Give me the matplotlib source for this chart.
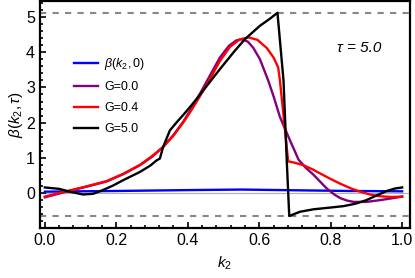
import numpy as np
import matplotlib
matplotlib.use("Agg")
import matplotlib.pyplot as plt
from matplotlib.ticker import MultipleLocator

plt.rcParams["font.family"] = ["Liberation Sans", "DejaVu Sans"]
plt.rcParams["mathtext.fontset"] = "custom"
plt.rcParams["mathtext.rm"] = "Liberation Sans"
plt.rcParams["mathtext.it"] = "Liberation Sans:italic"

# valeurs
k_blue = [0.0, 0.2, 0.4, 0.55, 0.7, 0.85, 1.0]
beta_blue = [0.04, 0.06, 0.085, 0.10, 0.08, 0.06, 0.05]

k_g00 = [0.0, 0.06, 0.12, 0.173, 0.22, 0.266, 0.30, 0.331, 0.36, 0.387,
         0.41, 0.434, 0.46, 0.49, 0.515, 0.535, 0.551, 0.568, 0.583, 0.602,
         0.625, 0.64, 0.658, 0.686, 0.71, 0.73, 0.752, 0.77, 0.789, 0.81,
         0.826, 0.845, 0.864, 0.9, 0.938, 0.97, 1.0]
beta_g00 = [-0.12, 0.04, 0.19, 0.33, 0.54, 0.79, 1.03, 1.31, 1.65, 2.02,
            2.4, 2.82, 3.3, 3.85, 4.18, 4.33, 4.37, 4.3, 4.13, 3.8,
            3.2, 2.75, 2.16, 1.5, 0.95, 0.72, 0.52, 0.33, 0.13, -0.04,
            -0.14, -0.21, -0.25, -0.25, -0.2, -0.15, -0.1]

k_g04 = [0.0, 0.06, 0.12, 0.173, 0.22, 0.266, 0.30, 0.331, 0.36, 0.387,
         0.41, 0.434, 0.46, 0.49, 0.518, 0.545, 0.57, 0.595, 0.621, 0.64,
         0.653, 0.658, 0.681, 0.70, 0.724, 0.75, 0.77, 0.80, 0.826, 0.855,
         0.882, 0.91, 0.938, 0.97, 1.0]
beta_g04 = [-0.1, 0.05, 0.2, 0.34, 0.55, 0.8, 1.05, 1.31, 1.63, 2.0,
            2.35, 2.75, 3.2, 3.75, 4.15, 4.36, 4.42, 4.35, 4.12, 3.85,
            3.57, 3.19, 0.9, 0.86, 0.79, 0.67, 0.56, 0.4, 0.27, 0.14,
            0.04, -0.04, -0.09, -0.11, -0.1]

k_g50 = [0.0, 0.04, 0.07, 0.107, 0.135, 0.159, 0.19, 0.22, 0.266, 0.295,
         0.313, 0.322, 0.331, 0.35, 0.369, 0.39, 0.415, 0.443, 0.49, 0.53,
         0.56, 0.602, 0.63, 0.651, 0.668, 0.677, 0.684, 0.714, 0.752, 0.8,
         0.836, 0.87, 0.9, 0.93, 0.957, 0.98, 1.0]
beta_g50 = [0.16, 0.12, 0.04, -0.04, -0.02, 0.07, 0.21, 0.37, 0.6, 0.78,
            0.93, 0.98, 1.31, 1.78, 2.01, 2.25, 2.55, 2.91, 3.52, 4.02,
            4.37, 4.75, 4.95, 5.12, 3.19, 0.93, -0.65, -0.53, -0.46, -0.41,
            -0.37, -0.3, -0.2, -0.06, 0.06, 0.13, 0.16]

borne_haut = 5.11
borne_bas = -0.65

fig = plt.figure(figsize=(4.15, 2.78), dpi=100)
ax = fig.add_axes([0.096, 0.18, 0.892, 0.816])

ax.axhline(0, color="#b0b0b0", lw=0.8, zorder=1)
ax.axhline(borne_haut, color="#888888", lw=1.5, ls=(0, (3, 3)), zorder=1)
ax.axhline(borne_bas, color="#888888", lw=1.5, ls=(0, (3, 3)), zorder=1)

ax.plot(k_blue, beta_blue, color="#0000ff", lw=1.7, label=r"$\beta(k_2,0)$")
ax.plot(k_g00, beta_g00, color="#800080", lw=1.7, label="G=0.0")
ax.plot(k_g04, beta_g04, color="#ff0000", lw=1.7, label="G=0.4")
ax.plot(k_g50, beta_g50, color="#000000", lw=1.7, label="G=5.0")

ax.set_xlim(-0.014, 1.022)
ax.set_ylim(-0.99, 5.45)
ax.xaxis.set_major_locator(MultipleLocator(0.2))
ax.xaxis.set_minor_locator(MultipleLocator(0.04))
ax.yaxis.set_major_locator(MultipleLocator(1))
ax.yaxis.set_minor_locator(MultipleLocator(0.2))
ax.tick_params(which="both", direction="in", labelsize=11.5, width=1.2)
ax.tick_params(which="major", length=4)
ax.tick_params(which="minor", length=2)
for s in ax.spines.values():
    s.set_linewidth(1.6)

ax.set_xlabel(r"$k_2$", fontsize=11, labelpad=5)
ax.set_ylabel(r"$\beta(k_2,\tau)$", fontsize=11, labelpad=1)
ax.text(0.88, 4.12, "τ = 5.0", fontsize=11, fontstyle="italic",
        ha="center", va="center")

ax.legend(loc="upper left", bbox_to_anchor=(0.08, 0.78), frameon=False,
          fontsize=9, handlelength=1.9, labelspacing=0.72, borderaxespad=0,
          handletextpad=0.5)

fig.savefig("out.png", dpi=100)
